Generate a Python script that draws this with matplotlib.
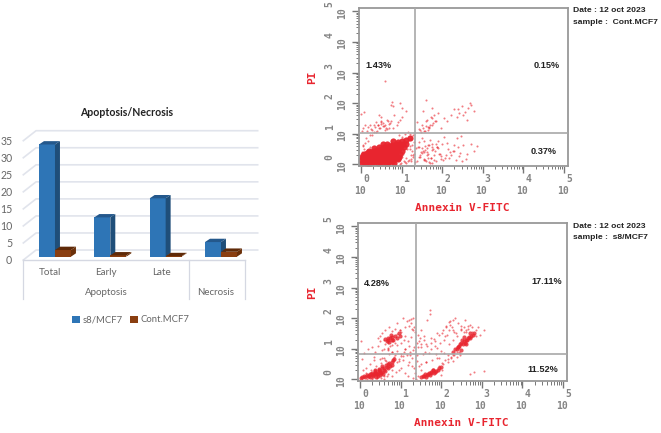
import numpy as np
import matplotlib
matplotlib.use("Agg")
import matplotlib.pyplot as plt
from matplotlib.patches import Polygon, Patch
from matplotlib.ticker import NullLocator

W, H = 661, 433

# bar chart values
categories = ["Total", "Early", "Late", "Necrosis"]
groups = ["Apoptosis", "Necrosis"]
s8_values = [32.91, 11.52, 17.11, 4.28]
cont_values = [1.95, 0.37, 0.15, 1.43]
y_ticks = [0, 5, 10, 15, 20, 25, 30, 35]

# flow cytometry, log10 of the intensities
# Cont.MCF7, dense part
c_dense_x = [.02,.12,.2,.33,.41,.52,.63,.7,.82, .0,.09,.22,.3,.43,.5,.6,.73,.8,.9,
             .03,.14,.2,.34,.4,.53,.62,.71,.84,.93, .08,.16,.27,.35,.46,.56,.64,.77,.86,.97,
             .2,.31,.39,.5,.61,.69,.8,.91,1.0, .33,.44,.56,.66,.74,.86,.96,1.05,
             .55,.64,.76,.85,.94,1.03,1.12, .8,.9,1.0,1.1,1.2, .05,.15,.25,.12,
             .07,.17,.27,.37,.47,.57,.67,.77, .04,.15,.26,.37,.48,.58,.68,.78,.88,
             .12,.24,.36,.47,.58,.69,.8,.3,.42,.53,.64,.75,.86,.48,.6,.71,.82,.92,.68,.78,.88,.98]
c_dense_y = [.03,.05,.02,.06,.03,.05,.02,.06,.04, .14,.16,.13,.17,.14,.13,.16,.15,.13,.16,
             .25,.24,.27,.24,.26,.25,.27,.23,.26,.24, .33,.36,.34,.37,.35,.33,.37,.35,.36,.34,
             .45,.44,.47,.46,.44,.48,.45,.47,.44, .54,.56,.55,.57,.54,.56,.55,.58,
             .65,.66,.64,.67,.65,.68,.66, .76,.74,.77,.79,.86, .3,.36,.4,.27,
             .09,.1,.08,.11,.09,.1,.08,.11, .2,.19,.21,.2,.19,.21,.2,.19,.21,
             .31,.3,.3,.31,.29,.3,.31,.4,.41,.4,.42,.39,.41,.5,.51,.5,.52,.49,.6,.61,.6,.62]
# Cont.MCF7, scattered part
c_sparse_x = [.02,.1,.06,.18,.25,.31,.38,.44,.5,.55,.6,.66,.72,.4,.47,.58,.65,.12,.22,.33,.8,.88,.95,1.02,1.1,.9,.82,.75,.0,.08,
              .5,.58,.8,.97,.77,1.02,.45,1.22,1.27,1.3,1.21,1.25,1.3,1.24,1.29,1.22,1.26,1.33,1.2,1.28,
              1.38,1.45,1.5,1.55,1.62,1.68,1.72,1.78,1.85,1.92,2.0,2.08,2.15,2.22,2.3,2.38,2.45,2.52,2.6,2.7,2.78,2.85,
              1.42,1.5,1.58,1.63,1.7,1.76,1.82,1.9,1.96,2.05,2.12,2.2,2.28,2.36,2.46,1.48,1.55,1.62,1.74,1.86,1.98,1.42,1.56,1.68,
              1.42,1.5,1.56,1.62,1.68,1.72,1.78,1.84,1.9,1.98,2.05,1.52,1.6,1.7,1.8,1.74,2.12,2.22,2.3,2.36,2.42,2.5,2.56,2.62,2.68,2.72,2.78,2.64,2.52,2.4,1.65,1.6,
              .04,.14,.21,.28,.35,.42,.48,.54,.62,.68,.74,.36,.42,.5,.56,.63,.7,.28,.16,.08,.93,1.0,1.08,1.16,1.2,
              .95,1.05,1.12,1.0,1.1,1.18,1.04,.98,1.15,1.22,1.14,1.08,.02,.06,.1,.15,.22,
              1.36,1.4,1.46,1.52,1.58,1.64,1.7,1.76,1.8,1.88,1.94,2.02,1.44,1.54,1.6,1.66,1.72,1.8,1.9,1.5,1.58,1.66,1.76,1.84,
              1.45,1.52,1.6,1.68,1.75,1.82,1.38,1.48,1.58,1.66,1.74,2.1,2.18,2.26,2.34,2.42,2.5,2.58]
c_sparse_y = [1.1,1.28,.6,1.22,1.15,1.3,1.38,1.2,1.32,1.36,1.28,1.4,1.35,1.1,1.18,1.12,1.15,.85,.95,1.05,1.2,1.3,1.45,1.55,1.75,1.38,1.6,1.95,1.65,1.7,
              1.55,2.72,1.9,2.0,2.05,1.85,1.6,.1,.25,.35,.5,.62,.72,.82,.95,.18,.42,.08,.6,.3,
              .12,.3,.52,.18,.4,.62,.22,.5,.1,.35,.65,.2,.5,.32,.45,.55,.38,.62,.35,.65,.42,.6,
              .72,.85,.6,.3,.8,.05,.45,.75,.28,.88,.7,.4,.62,.85,.92,.4,.15,.52,.68,.58,.18,.55,.75,.08,
              1.15,1.3,1.08,1.45,1.22,1.55,1.35,1.42,1.68,1.2,1.5,1.75,2.1,1.28,1.6,1.85,1.4,1.62,1.8,1.55,1.68,1.9,1.72,1.45,2.0,1.95,1.75,1.85,1.6,1.82,1.12,1.4,
              1.2,1.08,1.3,1.12,1.22,1.28,1.42,1.25,1.2,1.33,1.42,1.05,1.3,1.38,1.25,1.45,1.2,.95,.75,.5,.95,.88,1.0,1.05,.98,
              .02,.1,.2,.25,.05,.15,.35,.05,.12,.3,.5,.06,.4,.62,.7,.48,.55,.52,.58,
              .25,.42,.15,.35,.05,.48,.15,.58,.35,.15,.25,.4,.12,.62,.22,.32,.52,.38,.48,.22,.58,.68,
              1.12,1.2,1.25,1.18,1.3,1.4,1.38,1.05,1.1,1.22,1.5,.3,.22,.42,.15,.28,.1,.18]

# s8/MCF7, dense parts
s_dense_x = [.02,.1,.16,.22,.28,.34,.4,.46,.52,.25,.33,.42,.5,.58,.47,.55,.63,.7,.62,.72,.8,.84,.36,.44,
             .06,.13,.19,.25,.31,.37,.43,.49,.55,.3,.38,.46,.54,.6,.66,.74,.4,.48,.56,.68,.78,.82,
             1.5,1.58,1.64,1.7,1.76,1.82,1.88,1.95,1.62,1.72,1.8,1.54,1.6,1.67,1.74,1.79,1.85,1.92,2.0,
             2.3,2.38,2.44,2.5,2.56,2.62,2.68,2.74,2.82,2.42,2.52,2.6,2.7,2.48,2.35,2.41,2.47,2.53,2.59,2.65,2.71,2.78,2.55,2.63,
             .62,.7,.78,.86,.95,.72,.82,.66,.74,.8,.9,.98,.76,.68]
s_dense_y = [.05,.1,.14,.12,.18,.16,.22,.26,.2,.08,.1,.16,.28,.32,.35,.42,.46,.38,.28,.52,.56,.68,.3,.12,
             .08,.07,.1,.16,.13,.2,.17,.2,.25,.22,.26,.3,.36,.38,.4,.44,.08,.15,.18,.5,.48,.62,
             .06,.1,.14,.2,.24,.2,.28,.36,.06,.14,.3,.12,.18,.17,.2,.3,.24,.32,.4,
             .9,.98,1.1,1.2,1.25,1.3,1.38,1.42,1.52,1.05,1.3,1.15,1.5,.95,1.0,1.06,1.16,1.14,1.2,1.36,1.34,1.46,1.38,1.28,
             1.32,1.28,1.38,1.42,1.5,1.22,1.3,1.25,1.36,1.3,1.35,1.4,1.45,1.35]
# s8/MCF7, scattered part
s_sparse_x = [.02,.05,.1,.2,.3,.38,.45,.55,.62,.7,.78,.85,.92,1.0,1.08,1.15,1.22,.15,.28,.4,.52,.65,.75,.9,1.05,1.18,1.28,
              .3,.42,.52,.6,.68,.78,.88,.95,1.02,1.1,1.18,.5,.45,.35,.85,.98,1.1,1.2,1.32,.9,1.05,1.25,1.15,1.3,
              1.0,1.08,1.2,1.27,1.35,1.34,1.4,1.48,1.42,1.72,1.72,1.66,1.5,1.58,1.45,1.62,1.75,1.85,1.95,2.05,2.12,2.2,2.28,2.35,
              2.02,2.12,2.22,2.32,2.42,2.5,2.58,2.66,2.76,2.85,2.95,3.05,2.2,2.3,2.4,2.48,2.55,2.62,1.75,1.85,1.9,2.0,2.1,1.5,1.6,
              1.38,1.42,1.5,1.3,1.35,1.55,1.45,1.32,1.62,1.4,1.95,2.05,2.1,2.18,2.25,2.3,2.45,2.7,2.8,3.05,1.95,2.02,2.0,
              .95,1.02,1.12,1.2,.8,.7,.55,.62,
              .55,.62,.72,.8,.9,.98,.6,.68,.75,.85,1.12,.48,.58,.7,.8,.92,1.02,1.1,1.18,1.25,1.3,1.26,1.3,1.22,
              .08,.14,.24,.34,.5,.6,.72,.84,.96,1.06,1.2,1.28,.18,.3,.42,.58,.66,.78,
              1.42,1.5,1.58,1.66,1.74,1.82,1.9,1.98,2.06,2.14,2.2,2.26,2.08,2.16,2.24,2.32,2.4,2.46,2.18,2.28,2.38,2.46,
              2.56,2.66,2.76,2.86,2.9,2.72,2.6,2.5,2.36,2.28,2.22,1.5,1.62,1.78,1.9,2.02,1.4,1.56,1.7,1.86]
s_sparse_y = [1.25,.65,.85,1.0,1.05,.9,1.35,.95,1.15,1.0,.88,.78,.92,.84,.9,.8,.88,.2,.3,.42,.52,.6,.42,.55,.62,.48,.7,
              .02,.08,.05,.1,.18,.12,.25,.3,.38,.22,.12,1.4,1.1,.72,1.65,1.6,1.7,1.95,1.72,1.85,2.0,1.98,1.92,2.02,
              1.55,1.3,1.75,1.65,1.55,1.05,1.2,1.35,1.45,2.28,2.15,1.95,1.6,1.4,1.25,1.15,1.35,1.25,1.45,1.6,1.75,1.88,1.95,2.0,
              1.5,1.7,1.9,1.55,1.85,1.65,1.95,1.75,1.7,1.6,1.45,1.62,1.15,1.3,1.4,1.6,1.72,1.55,1.0,1.1,1.5,.92,1.4,1.05,.9,
              .02,.12,.3,.05,.22,.08,.45,.38,.55,.6,.42,.5,.62,.68,.72,.8,.9,.18,.25,.28,.7,.3,.15,
              .68,.75,.98,1.1,1.12,1.02,.7,.62,
              1.5,1.62,1.7,1.58,1.48,1.6,1.28,1.2,1.1,1.2,1.4,1.25,1.0,.95,.9,1.12,1.18,.98,1.25,1.38,1.6,1.85,.95,.78,
              .3,.38,.5,.62,.68,.7,.82,.72,.6,.75,.58,.45,.02,.05,.04,.02,.12,.3,
              1.05,1.15,1.28,1.08,1.2,1.32,1.02,1.18,1.3,1.44,1.62,1.72,.85,.8,.7,.78,.88,.86,.55,.6,.72,.8,
              1.55,1.65,1.55,1.4,1.72,1.78,1.62,1.75,1.5,1.62,1.78,.5,.58,.62,.7,.52,.78,.82,.85,.82]

RED = "#e8252f"
FONT_NOTE = "Liberation Sans"


def axes_px(x0, y0, x1, y1):
    return fig.add_axes([x0 / W, 1 - y1 / H, (x1 - x0) / W, (y1 - y0) / H])


def text_px(x, y, s, **kw):
    kw.setdefault("ha", "center")
    kw.setdefault("va", "center")
    fig.text(x / W, 1 - y / H, s, **kw)


def bar3d(ax, x, w, v, front, top, side):
    # oblique box, the base sits a bit behind the front plane
    dx, dy, lift = 0.09, 0.98, 0.98
    b, t = lift, lift + v
    ax.add_patch(Polygon([(x, b), (x + w, b), (x + w, t), (x, t)], fc=front, ec="none", clip_on=False, zorder=3))
    ax.add_patch(Polygon([(x, t), (x + w, t), (x + w + dx, t + dy), (x + dx, t + dy)], fc=top, ec="none", clip_on=False, zorder=3))
    ax.add_patch(Polygon([(x + w, b), (x + w + dx, b + dy), (x + w + dx, t + dy), (x + w, t)], fc=side, ec="none", clip_on=False, zorder=3))


def flow_panel(box, xcut, ycut, pts, pcts, ly, date_y, sample):
    x0, y0, x1, y1 = box
    ax = axes_px(x0, y0, x1, y1)
    ax.set_xscale("log")
    ax.set_yscale("log")
    ax.set_xlim(10 ** -0.05, 10 ** 5.1)
    ax.set_ylim(10 ** -0.055, 10 ** 5.11)
    for dx, dy, s, a in pts:
        ax.scatter(10 ** np.array(dx), 10 ** np.array(dy), s=s, c=RED, alpha=a,
                   linewidths=0, clip_on=True, zorder=2)
    ax.axvline(10 ** xcut, color="#a8a8a8", lw=1.2, zorder=3)
    ax.axhline(10 ** ycut, color="#a8a8a8", lw=1.2, zorder=3)
    for sp in ax.spines.values():
        sp.set_color("#999999")
        sp.set_linewidth(1.3)
    decades = [0, 1, 2, 3, 4, 5]
    # tick marks drawn by hand, outside the box
    ax.xaxis.set_major_locator(NullLocator())
    ax.yaxis.set_major_locator(NullLocator())
    ax.xaxis.set_minor_locator(NullLocator())
    ax.yaxis.set_minor_locator(NullLocator())
    wpx, hpx = x1 - x0, y1 - y0
    tk = dict(color="#777777", clip_on=False, solid_capstyle="butt")
    for d in decades:
        v = 10.0 ** d
        ax.plot([v, v], [0, -7 / hpx], transform=ax.get_xaxis_transform(), lw=1, **tk)
        ax.plot([0, -7 / wpx], [v, v], transform=ax.get_yaxis_transform(), lw=1, **tk)
        if d == 5:
            continue
        for m in range(2, 10):
            ax.plot([m * v, m * v], [0, -3.5 / hpx], transform=ax.get_xaxis_transform(), lw=0.7, **tk)
            ax.plot([0, -3.5 / wpx], [m * v, m * v], transform=ax.get_yaxis_transform(), lw=0.7, **tk)
    ax.set_xlim(10 ** -0.05, 10 ** 5.1)
    ax.set_ylim(10 ** -0.055, 10 ** 5.11)
    tick_style = dict(color="#858585", fontsize=7, fontweight="bold", family="DejaVu Sans Mono",
                      ha="center", va="center", annotation_clip=False)
    for d in decades:
        ax.annotate("10", (10 ** d, 0), xycoords=ax.get_xaxis_transform(), xytext=(-1, -18), textcoords="offset points", **tick_style)
        ax.annotate(str(d), (10 ** d, 0), xycoords=ax.get_xaxis_transform(), xytext=(3.5, -9.5), textcoords="offset points", **tick_style)
        ax.annotate("10", (0, 10 ** d), xycoords=ax.get_yaxis_transform(), xytext=(-12, -1), textcoords="offset points", rotation=90, **tick_style)
        ax.annotate(str(d), (0, 10 ** d), xycoords=ax.get_yaxis_transform(), xytext=(-21, 5), textcoords="offset points", rotation=90, **tick_style)
    mono = dict(color=RED, fontweight="bold", family="DejaVu Sans Mono")
    text_px((x0 + x1) / 2 - 1, ly, "Annexin V-FITC", fontsize=8, **mono)
    text_px(312, (y0 + y1) / 2 - 10, "PI", fontsize=8, rotation=90, **mono)
    for px, py, s in pcts:
        text_px(px, py, s, fontsize=6.6, fontweight="bold", color="#222222", family=FONT_NOTE)
    text_px(573, date_y, "Date : 12 oct 2023", fontsize=6.1, fontweight="bold", color="#222222", ha="left", family=FONT_NOTE)
    text_px(573, date_y + 11, sample, fontsize=6.1, fontweight="bold", color="#222222", ha="left", family=FONT_NOTE)


fig = plt.figure(figsize=(W / 100, H / 100), dpi=100)

# bar chart, 55.33 px for one category, 0 at y=260 and 35 at y=140.7
ax = axes_px(23.33, 140.7, 244.67, 260)
ax.set_xlim(0, 4)
ax.set_ylim(0, 35)
for sp in ax.spines.values():
    sp.set_visible(False)
ax.patch.set_visible(False)
grid_c = "#e1e4ec"
for v in y_ticks:
    ax.plot([0, 0.23, 4.235], [v, v + 2.93, v + 2.93], color=grid_c, lw=1.2, clip_on=False, zorder=1)
ax.plot([0, 4], [0, 0], color="#d5d8e2", lw=1, clip_on=False, zorder=2)
for x in (0, 3, 4):
    ax.plot([x, x], [0, -11.5], color="#d5d8e2", lw=0.9, clip_on=False, zorder=2)
for i in range(4):
    bar3d(ax, i + 0.283, 0.289, s8_values[i], "#2e75b6", "#24588c", "#1f4e79")
    bar3d(ax, i + 0.572, 0.289, cont_values[i], "#8a3e10", "#5f2a08", "#6b3009")
ax.set_xticks([])
ax.set_yticks(y_ticks)
ax.tick_params(axis="y", length=0, pad=8, labelsize=7.6, labelcolor="#666666")
font_bar = "Lato"
for lab in ax.get_yticklabels():
    lab.set_family(font_bar)
for i, c in enumerate(categories[:3]):
    ax.text(i + 0.49, -3.8, c, ha="center", va="center", fontsize=7.1, color="#666666", family=font_bar, clip_on=False)
ax.text(1.5, -9.4, groups[0], ha="center", va="center", fontsize=7, color="#666666", family=font_bar, clip_on=False)
ax.text(3.48, -9.4, groups[1], ha="center", va="center", fontsize=7, color="#666666", family=font_bar, clip_on=False)
text_px(127, 113, "Apoptosis/Necrosis", fontsize=7.6, fontweight="bold", color="#222222", family=font_bar)
handles = [Patch(fc="#2e75b6", label="s8/MCF7"), Patch(fc="#8a3e10", label="Cont.MCF7")]
fig.legend(handles=handles, loc="center", bbox_to_anchor=(131 / W, 1 - 320 / H), ncol=2, frameon=False,
           prop={"family": font_bar, "size": 6.8}, labelcolor="#666666", handlelength=0.8, handleheight=0.8,
           handletextpad=0.3, columnspacing=0.8)

flow_panel((359, 8, 568, 166), 1.33, 1.03,
           [(c_dense_x, c_dense_y, 20, 0.95), (c_sparse_x, c_sparse_y, 2.2, 0.6)],
           [(378, 65, "1.43%"), (547, 65, "0.15%"), (544, 152, "0.37%")],
           208, 11, "sample :  Cont.MCF7")
flow_panel((358, 223, 567, 381), 1.39, 0.83,
           [(s_dense_x, s_dense_y, 9, 0.8), (s_sparse_x, s_sparse_y, 2.2, 0.6)],
           [(377, 283, "4.28%"), (547, 281, "17.11%"), (543, 370, "11.52%")],
           423, 226, "sample :  s8/MCF7")

fig.savefig("out.png", dpi=100)
